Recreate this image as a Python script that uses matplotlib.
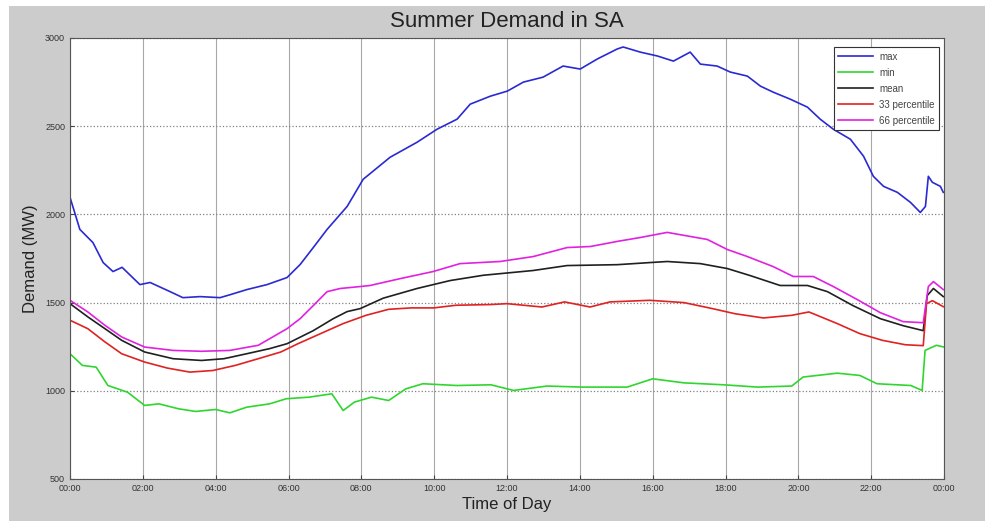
import matplotlib
matplotlib.use('Agg')
import matplotlib.pyplot as plt
from matplotlib.patches import Rectangle

# summer demand profiles (hours, MW)
max_hours = [0, 0.27, 0.63, 0.91, 1.18, 1.43, 1.92, 2.20, 2.75, 3.10, 3.57, 4.12, 4.40, 4.86,
             5.41, 5.96, 6.32, 6.68, 7.06, 7.61, 8.05, 8.79, 9.53, 10.08, 10.63, 10.99, 11.54,
             12.01, 12.45, 12.99, 13.54, 14.01, 14.48, 15.03, 15.19, 15.66, 16.13, 16.57, 17.03,
             17.31, 17.77, 18.13, 18.60, 18.96, 19.31, 19.78, 20.25, 20.60, 20.96, 21.43, 21.79,
             22.06, 22.34, 22.72, 23.08, 23.35, 23.49, 23.57, 23.68, 23.90, 23.98]
max_mw = [2097, 1915, 1840, 1727, 1676, 1700, 1602, 1614, 1562, 1528, 1534, 1528, 1545, 1574,
          1602, 1642, 1716, 1812, 1915, 2045, 2199, 2324, 2409, 2483, 2540, 2625, 2670,
          2699, 2750, 2778, 2841, 2824, 2881, 2938, 2949, 2920, 2898, 2869, 2920,
          2852, 2841, 2807, 2784, 2727, 2693, 2653, 2608, 2540, 2483, 2426, 2330,
          2216, 2159, 2125, 2068, 2011, 2045, 2216, 2182, 2159, 2125]

min_hours = [0, 0.34, 0.72, 1.04, 1.58, 2.05, 2.44, 2.98, 3.45, 4.0, 4.39, 4.85, 5.48, 5.94,
             6.57, 7.19, 7.50, 7.81, 8.28, 8.75, 9.22, 9.69, 10.62, 11.56, 12.18, 13.1, 14.05,
             15.3, 16.0, 16.86, 17.95, 18.88, 19.82, 20.13, 21.07, 21.69, 22.16, 23.09, 23.40,
             23.48, 23.79, 24.0]
min_mw = [1210, 1144, 1134, 1030, 992, 917, 926, 898, 883, 894, 875, 907, 926, 955,
          964, 983, 888, 936, 964, 945, 1011, 1040, 1030, 1034, 1002, 1027, 1021,
          1021, 1068, 1045, 1034, 1021, 1027, 1078, 1100, 1087, 1040, 1030, 1002,
          1229, 1258, 1248]

mean_hours = [0, 0.49, 0.96, 1.42, 2.05, 2.83, 3.61, 4.23, 4.85, 5.48, 5.96, 6.68, 7.23, 7.61,
              7.97, 8.6, 9.53, 10.44, 11.35, 12.72, 13.65, 15.03, 15.93, 16.4, 17.31, 18.05,
              18.68, 19.5, 20.25, 20.8, 21.5, 22.25, 22.88, 23.43, 23.54, 23.71, 23.98]
mean_mw = [1494, 1419, 1352, 1286, 1220, 1182, 1172, 1182, 1210, 1239, 1267, 1341, 1409, 1449,
           1466, 1525, 1580, 1625, 1655, 1682, 1710, 1715, 1727, 1733, 1721, 1693,
           1653, 1597, 1597, 1562, 1483, 1409, 1369, 1341, 1540, 1580, 1534]

p33_hours = [0, 0.49, 0.96, 1.42, 2.05, 2.67, 3.29, 3.92, 4.54, 5.17, 5.79, 6.26, 6.88, 7.5,
             8.13, 8.75, 9.37, 9.99, 10.6, 11.56, 12.0, 12.96, 13.58, 14.28, 14.83, 15.92,
             16.86, 17.64, 18.26, 19.04, 19.82, 20.29, 21.07, 21.69, 22.31, 22.94, 23.43,
             23.52, 23.68, 23.98]
p33_mw = [1400, 1352, 1277, 1210, 1163, 1129, 1106, 1115, 1144, 1182, 1220, 1267, 1324, 1381,
          1428, 1462, 1470, 1470, 1485, 1489, 1494, 1475, 1504, 1475, 1504, 1513,
          1500, 1466, 1437, 1413, 1428, 1447, 1381, 1324, 1286, 1261, 1256,
          1494, 1511, 1477]

p66_hours = [0, 0.49, 0.96, 1.42, 2.05, 2.83, 3.61, 4.39, 5.17, 5.96, 6.32, 6.68, 7.06, 7.42,
             7.97, 8.24, 9.07, 9.97, 10.71, 11.81, 12.72, 13.65, 14.29, 15.03, 15.66, 16.4,
             17.03, 17.5, 18.05, 18.6, 19.31, 19.86, 20.41, 20.96, 21.62, 22.25, 22.88, 23.43,
             23.57, 23.71, 23.98]
p66_mw = [1513, 1447, 1371, 1305, 1248, 1229, 1224, 1229, 1258, 1352, 1409, 1483, 1562, 1580,
          1591, 1597, 1636, 1676, 1721, 1733, 1761, 1812, 1818, 1847, 1869, 1898,
          1875, 1858, 1801, 1761, 1704, 1648, 1648, 1591, 1517, 1443, 1392, 1386,
          1591, 1619, 1574]

x_ticks = list(range(0, 25, 2))
x_labels = ['%02d:00' % (h % 24) for h in x_ticks]
y_ticks = [500, 1000, 1500, 2000, 2500, 3000]

plt.rcParams['font.family'] = ['Liberation Sans', 'DejaVu Sans']

fig = plt.figure(figsize=(9.85, 5.21), dpi=100, facecolor='white')
# matlab style grey window, thin white strip on the left and top
fig.patches.append(Rectangle((9 / 985, 0), 1, 1 - 6 / 521, transform=fig.transFigure,
                             facecolor='#cccccc', edgecolor='none', zorder=-10))

ax = fig.add_axes([70 / 985, 42 / 521, 874 / 985, 441 / 521])
ax.set_facecolor('white')

ax.plot(max_hours, max_mw, color='#2a2ad2', lw=1.2, label='max')
ax.plot(min_hours, min_mw, color='#2fd62f', lw=1.2, label='min')
ax.plot(mean_hours, mean_mw, color='#202020', lw=1.2, label='mean')
ax.plot(p33_hours, p33_mw, color='#e02222', lw=1.2, label='33 percentile')
ax.plot(p66_hours, p66_mw, color='#e022e0', lw=1.2, label='66 percentile')

ax.set_xlim(0, 24)
ax.set_ylim(500, 3000)
ax.set_xticks(x_ticks)
ax.set_xticklabels(x_labels)
ax.set_yticks(y_ticks)
ax.tick_params(direction='in', length=3, labelsize=6.5, labelcolor='#333333', color='#444444')

ax.xaxis.grid(True, color='#a8a8a8', lw=0.8, ls='-')
ax.yaxis.grid(True, color='#808080', lw=0.9, ls=':')
for s in ax.spines.values():
    s.set_color('#555555')
    s.set_linewidth(0.8)

ax.set_title('Summer Demand in SA', fontsize=16, color='#222222', pad=8)
ax.set_xlabel('Time of Day', fontsize=12, color='#222222', labelpad=3)
ax.set_ylabel('Demand (MW)', fontsize=12, color='#222222', labelpad=5)

leg = ax.legend(loc='upper right', bbox_to_anchor=(1.0, 0.99), fontsize=7,
                handlelength=3.6, handletextpad=0.6, labelspacing=0.62, fancybox=False,
                framealpha=1, edgecolor='#333333', borderpad=0.45)
leg.get_frame().set_linewidth(0.8)
for t in leg.get_texts():
    t.set_color('#444444')

fig.savefig('out.png', dpi=100, facecolor=fig.get_facecolor())
